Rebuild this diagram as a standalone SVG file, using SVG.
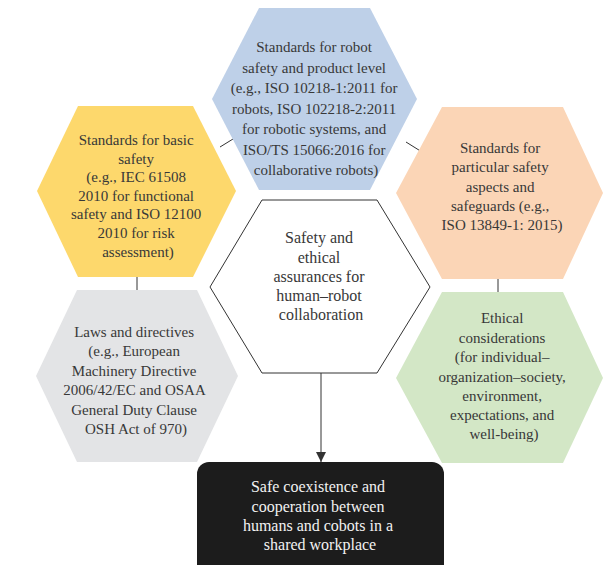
<svg xmlns="http://www.w3.org/2000/svg" width="603" height="565" viewBox="0 0 603 565">
  <style>
    .hex { stroke: none; }
    .label { font-family: "Liberation Serif", "DejaVu Serif", serif; font-size: 15px; fill: #383838; text-anchor: middle; }
    .big { font-size: 16px; }
    .light { fill: #f2f2f2; }
    .conn { stroke: #333333; stroke-width: 1; fill: none; }
  </style>
  <defs>
    <marker id="arrowhead" viewBox="0 0 10 10" refX="10" refY="5" markerWidth="10" markerHeight="10" markerUnits="userSpaceOnUse" orient="auto">
      <path d="M0,0 L10,5 L0,10 Z" fill="#333333"/>
    </marker>
  </defs>
  <rect width="603" height="565" fill="#ffffff"/>

  <g id="connectors">
    <line class="conn" x1="220" y1="147" x2="233" y2="139"/>
    <line class="conn" x1="406" y1="142" x2="422" y2="152"/>
    <line class="conn" x1="137" y1="277" x2="137" y2="290"/>
    <line class="conn" x1="498" y1="279" x2="498" y2="292"/>
    <line class="conn" x1="321" y1="373" x2="321" y2="462" marker-end="url(#arrowhead)"/>
  </g>

  <g id="robot-standards">
    <polygon class="hex" fill="#bed0e8" points="259,8 370,8 417,99 370,190 259,190 212,99"/>
    <text class="label">
      <tspan x="316" y="52">Standards for robot</tspan>
      <tspan x="316" y="72.5">safety and product level</tspan>
      <tspan x="316" y="93">(e.g., ISO 10218-1:2011 for</tspan>
      <tspan x="316" y="113.5">robots, ISO 102218-2:2011</tspan>
      <tspan x="316" y="134">for robotic systems, and</tspan>
      <tspan x="316" y="154.5">ISO/TS 15066:2016 for</tspan>
      <tspan x="316" y="175">collaborative robots)</tspan>
    </text>
  </g>

  <g id="basic-safety">
    <polygon class="hex" fill="#fdd86c" points="78,106 193,106 236,191 193,277 78,277 37,191"/>
    <text class="label">
      <tspan x="138" y="145">Standards for basic</tspan>
      <tspan x="138" y="163.6">safety</tspan>
      <tspan x="138" y="182.2">(e.g., IEC 61508</tspan>
      <tspan x="138" y="200.8">2010 for functional</tspan>
      <tspan x="138" y="219.4">safety and ISO 12100</tspan>
      <tspan x="138" y="238">2010 for risk</tspan>
      <tspan x="138" y="256.6">assessment)</tspan>
    </text>
  </g>

  <g id="particular-safety">
    <polygon class="hex" fill="#fbd5b6" points="442,107 563,107 603,193 563,279 442,279 396,193"/>
    <text class="label">
      <tspan x="502" y="153">Standards for</tspan>
      <tspan x="502" y="172">particular safety</tspan>
      <tspan x="502" y="191.5">aspects and</tspan>
      <tspan x="502" y="210.5">safeguards (e.g.,</tspan>
      <tspan x="502" y="230">ISO 13849-1: 2015)</tspan>
    </text>
  </g>

  <g id="laws-directives">
    <polygon class="hex" fill="#e3e4e6" points="77,290 197,290 238,376 197,462 77,462 36,376"/>
    <text class="label">
      <tspan x="136" y="336.7">Laws and directives</tspan>
      <tspan x="136" y="356">(e.g., European</tspan>
      <tspan x="136" y="376">Machinery Directive</tspan>
      <tspan x="136" y="395">2006/42/EC and OSAA</tspan>
      <tspan x="136" y="415">General Duty Clause</tspan>
      <tspan x="136" y="434">OSH Act of 970)</tspan>
    </text>
  </g>

  <g id="ethical">
    <polygon class="hex" fill="#d3e7c6" points="442,292 563,292 603,378 563,463 442,463 396,378"/>
    <text class="label">
      <tspan x="504" y="323">Ethical</tspan>
      <tspan x="504" y="343">considerations</tspan>
      <tspan x="504" y="362">(for individual–</tspan>
      <tspan x="504" y="381.5">organization–society,</tspan>
      <tspan x="504" y="400.5">environment,</tspan>
      <tspan x="504" y="420">expectations, and</tspan>
      <tspan x="504" y="439">well-being)</tspan>
    </text>
  </g>

  <g id="assurances">
    <polygon fill="#ffffff" stroke="#333333" stroke-width="1" points="262,200 377,200 430,287 377,373 262,373 210,287"/>
    <text class="label big">
      <tspan x="321" y="243">Safety and</tspan>
      <tspan x="321" y="263">ethical</tspan>
      <tspan x="321" y="282">assurances for</tspan>
      <tspan x="321" y="301">human–robot</tspan>
      <tspan x="321" y="320">collaboration</tspan>
    </text>
  </g>

  <g id="coexistence">
    <rect x="197" y="462" width="247" height="120" rx="12" fill="#1c1c1c"/>
    <text class="label big light">
      <tspan x="320" y="492">Safe coexistence and</tspan>
      <tspan x="320" y="512">cooperation between</tspan>
      <tspan x="320" y="531">humans and cobots in a</tspan>
      <tspan x="320" y="550">shared workplace</tspan>
    </text>
  </g>
</svg>
